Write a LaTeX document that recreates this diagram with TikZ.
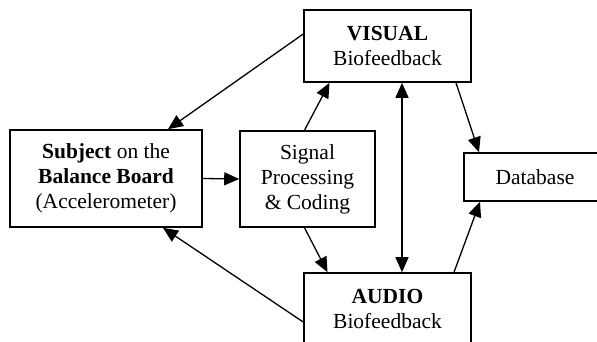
\documentclass[tikz,border=0pt]{standalone}
\usepackage{fontspec}
\setmainfont{Liberation Serif}
\usetikzlibrary{arrows.meta}
\begin{document}
\begin{tikzpicture}[x=1pt,y=-1pt,
  box/.style={draw,line width=1.6pt,inner sep=0pt,align=center,
    font=\fontsize{21.5}{25}\selectfont},
  arr/.style={line width=1.3pt,-{Triangle[length=15pt,width=13pt]}},
  darr/.style={line width=1.3pt,{Triangle[length=15pt,width=13pt]}-{Triangle[length=15pt,width=13pt]}}]
\useasboundingbox (0,0) rectangle (597,342);
\clip (0,0) rectangle (597,342);
\node[box,minimum width=192pt,minimum height=97pt] (subj) at (106,178.5)
  {\textbf{Subject} on the\\\textbf{Balance Board}\\(Accelerometer)};
\node[box,minimum width=135pt,minimum height=96pt] (sig) at (307.5,179)
  {Signal\\Processing\\\& Coding};
\node[box,minimum width=167pt,minimum height=72pt] (vis) at (387.5,46)
  {\textbf{VISUAL}\\Biofeedback};
\node[box,minimum width=167pt,minimum height=72pt] (aud) at (387.5,309)
  {\textbf{AUDIO}\\Biofeedback};
\node[box,minimum width=142pt,minimum height=48pt] (db) at (535,177)
  {Database};
\draw[arr] ([yshift=12pt]vis.west) -- ([xshift=62pt]subj.north);
\draw[arr] ([yshift=-13pt]aud.west) -- ([xshift=57pt]subj.south);
\draw[arr] (subj.east) -- (sig.west);
\draw[arr] ([xshift=-3pt]sig.north) -- ([xshift=-58pt]vis.south);
\draw[arr] ([xshift=-3pt]sig.south) -- ([xshift=-60pt]aud.north);
\draw[darr] ([xshift=14.5pt]vis.south) -- ([xshift=14.5pt]aud.north);
\draw[arr] ([xshift=68.5pt]vis.south) -- ([xshift=-56pt]db.north);
\draw[arr] ([xshift=66.5pt]aud.north) -- ([xshift=-55pt]db.south);
\end{tikzpicture}
\end{document}
